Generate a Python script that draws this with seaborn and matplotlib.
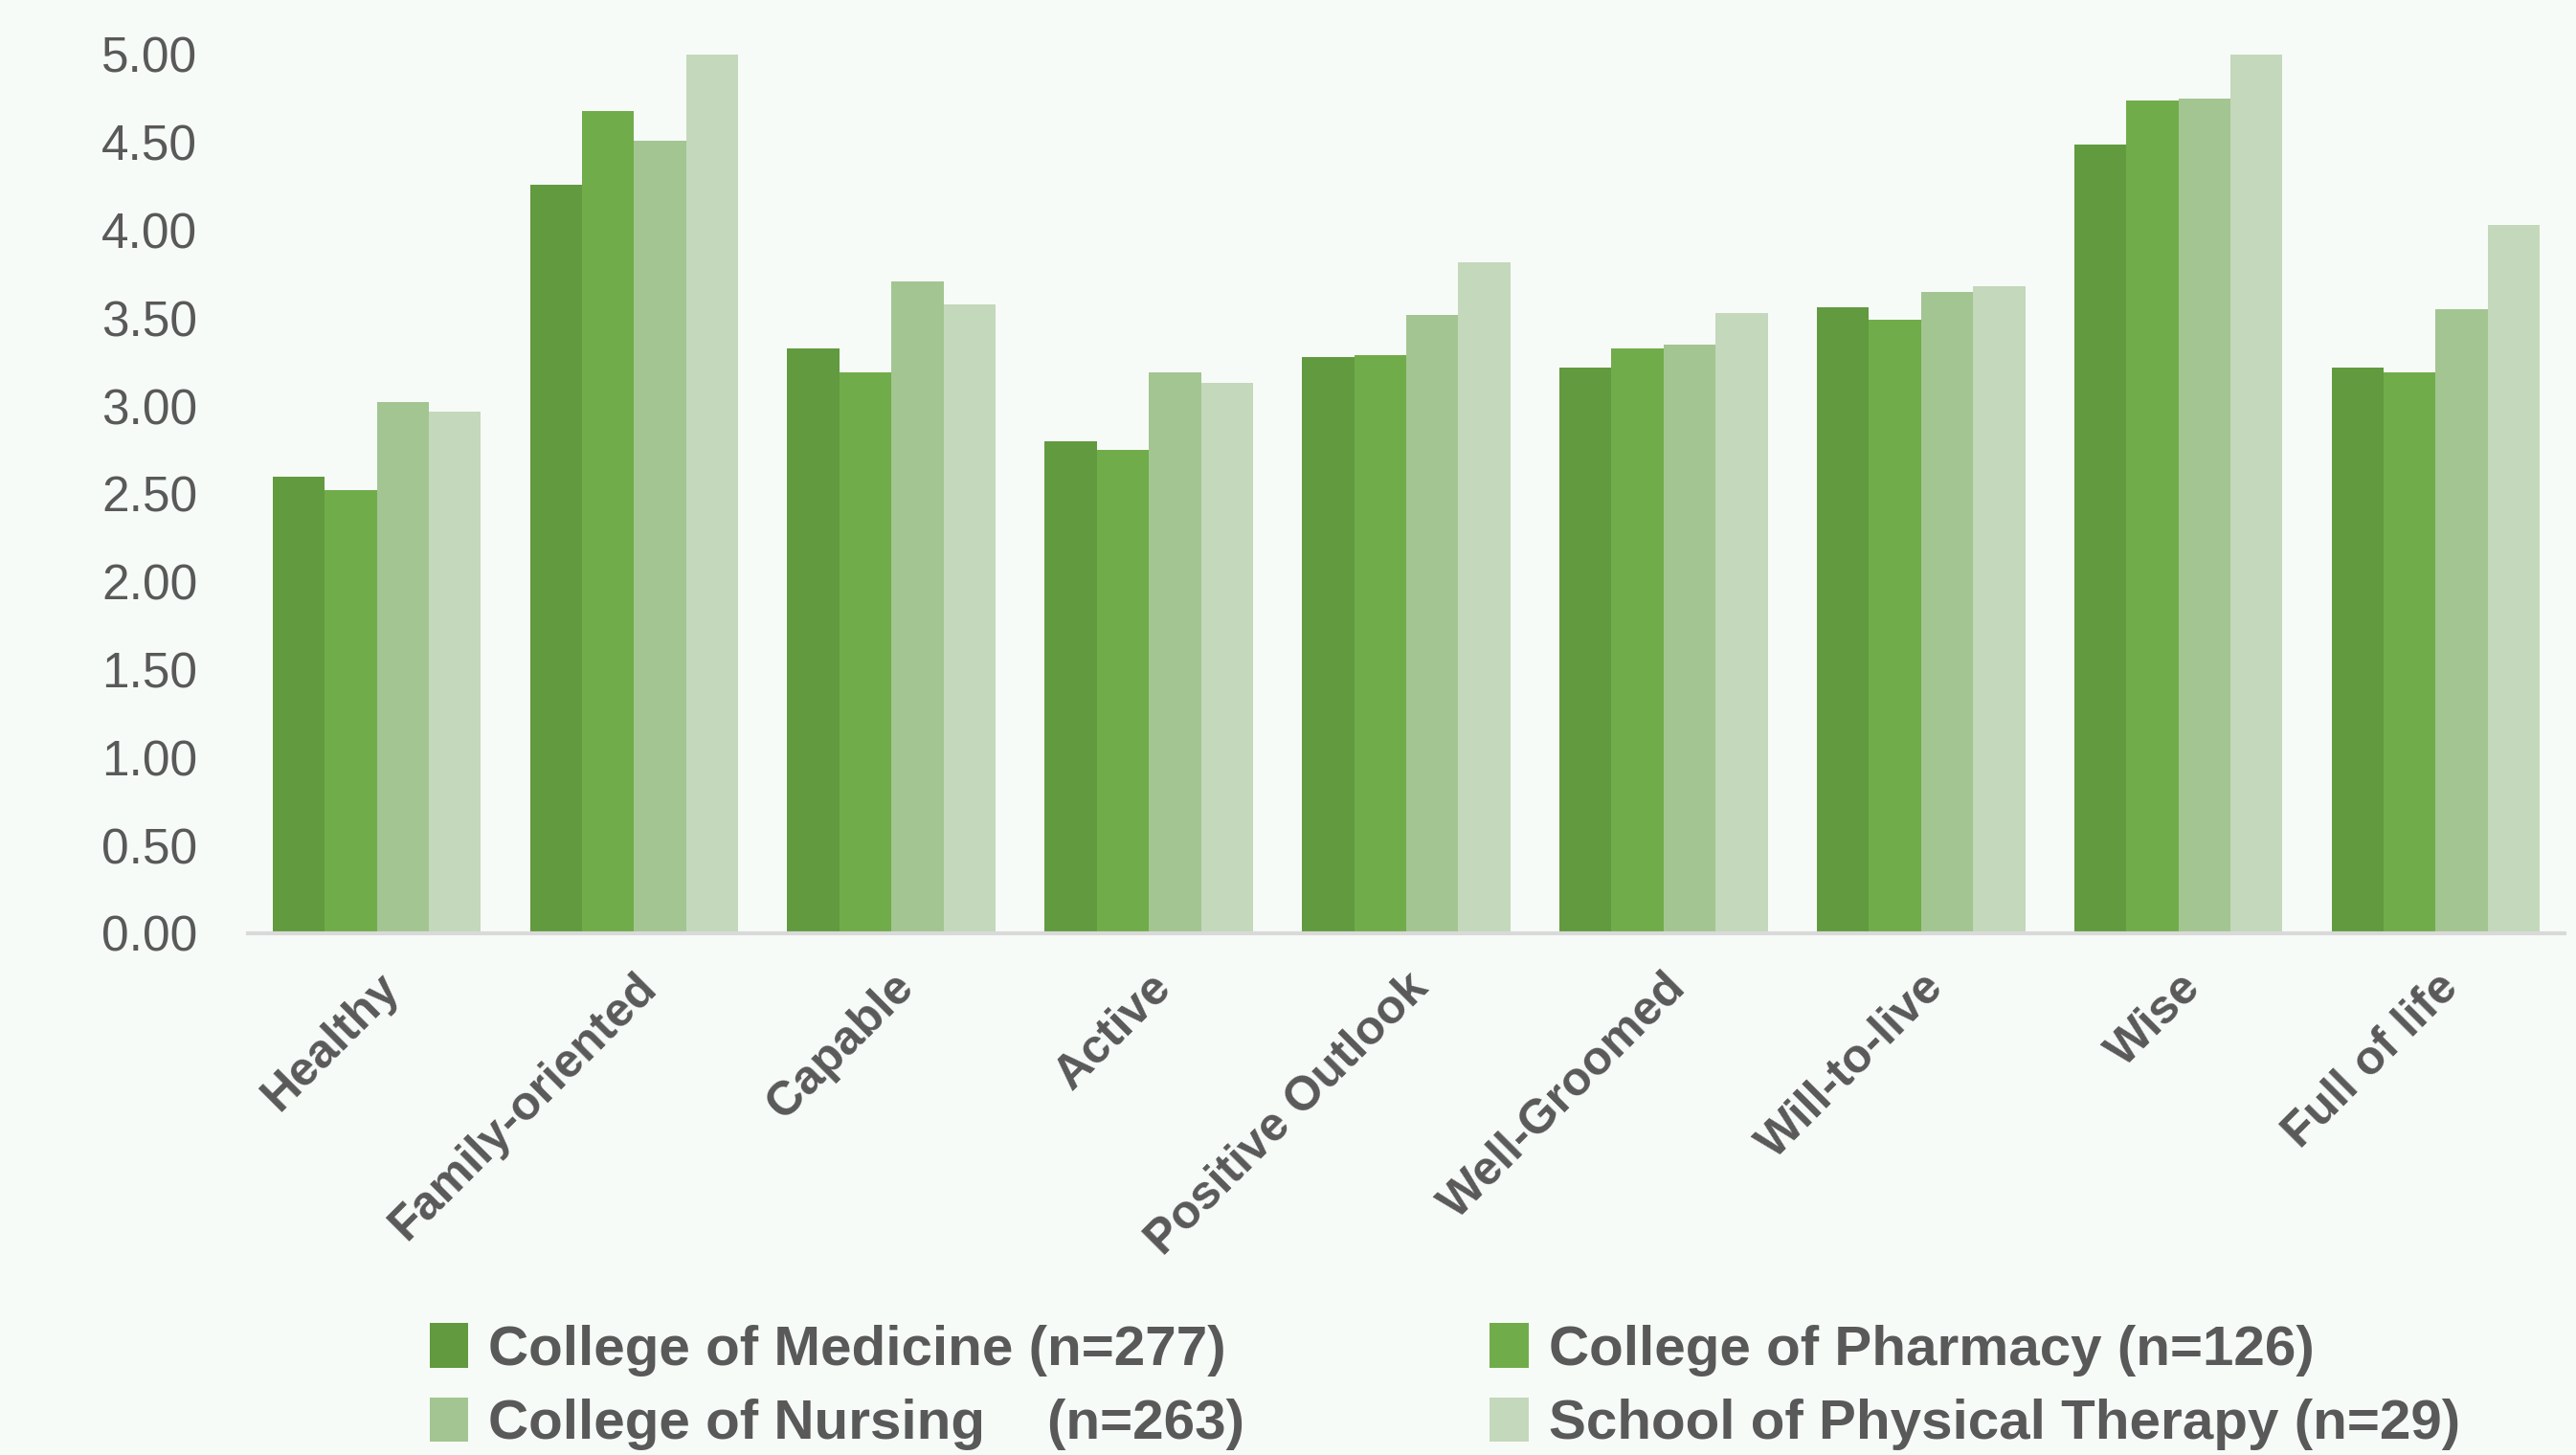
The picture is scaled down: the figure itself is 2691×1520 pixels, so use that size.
import matplotlib
matplotlib.use("Agg")
import matplotlib.pyplot as plt
import seaborn as sns
import pandas as pd
from matplotlib.patches import Patch

categories = ["Healthy", "Family-oriented", "Capable", "Active", "Positive Outlook",
              "Well-Groomed", "Will-to-live", "Wise", "Full of life"]
series_names = ["College of Medicine (n=277)", "College of Pharmacy (n=126)",
                "College of Nursing    (n=263)", "School of Physical Therapy (n=29)"]
medicine = [2.60, 4.26, 3.33, 2.80, 3.28, 3.22, 3.56, 4.49, 3.22]
pharmacy = [2.52, 4.68, 3.19, 2.75, 3.29, 3.33, 3.49, 4.74, 3.19]
nursing = [3.02, 4.51, 3.71, 3.19, 3.52, 3.35, 3.65, 4.75, 3.55]
physical = [2.97, 5.00, 3.58, 3.13, 3.82, 3.53, 3.68, 5.00, 4.03]
yticks = [0.0, 0.5, 1.0, 1.5, 2.0, 2.5, 3.0, 3.5, 4.0, 4.5, 5.0]

colors = ["#629A3F", "#71AC4A", "#A3C592", "#C4D8BC"]
bg = "#F7FBF7"
txt = "#595959"

rows = []
for name, vals in zip(series_names, [medicine, pharmacy, nursing, physical]):
    for c, v in zip(categories, vals):
        rows.append({"cat": c, "series": name, "val": v})
df = pd.DataFrame(rows)

sns.set_style("white")
plt.rcParams["font.family"] = ["Liberation Sans", "DejaVu Sans"]

fig = plt.figure(figsize=(26.91, 15.20), dpi=100, facecolor=bg)
ax = fig.add_axes([0.0963, 0.3586, 0.8992, 0.6039])
ax.set_facecolor(bg)

sns.barplot(data=df, x="cat", y="val", hue="series", order=categories,
            hue_order=series_names, palette=colors, saturation=1, width=0.81,
            gap=0, linewidth=0, ax=ax, legend=False)

ax.set_xlim(-0.5, len(categories) - 0.5)
ax.set_ylim(0, 5)
ax.set_yticks(yticks)
ax.set_yticklabels([f"{t:.2f}" for t in yticks], fontsize=37, color=txt)
ax.set_xticks(range(len(categories)))
ax.set_xticklabels(categories, rotation=45, ha="right", rotation_mode="anchor",
                   fontsize=36, fontweight="bold", color=txt)
ax.tick_params(axis="both", length=0)
ax.tick_params(axis="y", pad=38)
ax.tick_params(axis="x", pad=24)
ax.set_xlabel("")
ax.set_ylabel("")
for s in ["top", "right", "left"]:
    ax.spines[s].set_visible(False)
ax.spines["bottom"].set_color("#D9D9D9")
ax.spines["bottom"].set_linewidth(3)

order = [0, 2, 1, 3]
handles = [Patch(facecolor=colors[i], edgecolor="none") for i in order]
labels = [series_names[i] for i in order]
fig.legend(handles, labels, loc="upper left", bbox_to_anchor=(0.158, 0.106),
           ncol=2, frameon=False, prop={"size": 42, "weight": "bold"},
           labelcolor=txt, handlelength=0.7, handleheight=0.85, handletextpad=0.35,
           columnspacing=4.4, labelspacing=0.38, borderaxespad=0)

fig.savefig("out.png", dpi=100, facecolor=bg)
